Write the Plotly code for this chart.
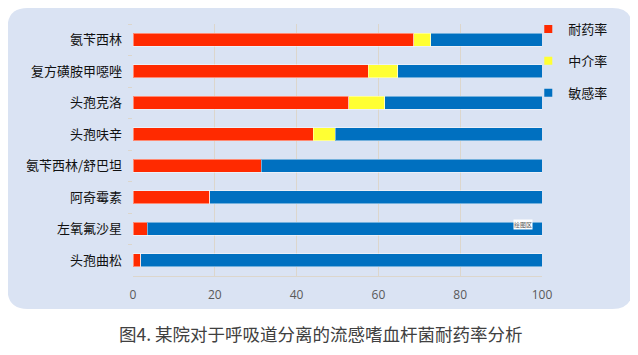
import plotly.graph_objects as go

categories = ["氨苄西林", "复方磺胺甲噁唑", "头孢克洛", "头孢呋辛",
              "氨苄西林/舒巴坦", "阿奇霉素", "左氧氟沙星", "头孢曲松"]
resistant = [68.6, 57.5, 52.8, 44.1, 31.3, 18.8, 3.5, 1.9]
intermediate = [4.2, 7.2, 8.7, 5.3, 0, 0, 0, 0]
sensitive = [27.2, 35.3, 38.5, 50.6, 68.7, 81.2, 96.5, 98.1]
series_names = ["耐药率", "中介率", "敏感率"]
x_ticks = [0, 20, 40, 60, 80, 100]
caption = "图4. 某院对于呼吸道分离的流感嗜血杆菌耐药率分析"

colors = ["#ff2a00", "#ffff33", "#0070c0"]

# the page body adds an 8px margin; work in page pixels and convert
OFF = 8
W, H = 630, 347
PL, PR, PT, PB = 133.3, 541.7, 24, 276  # plot area in page pixels
L, T = PL - OFF, PT - OFF
R, B = W - (PR - OFF), H - (PB - OFF)
PW, PH = PR - PL, PB - PT


def px(X):
    return (X - PL) / PW


def py(Y):
    return (PB - Y) / PH


fig = go.Figure()
for name, vals, col in zip(series_names, [resistant, intermediate, sensitive], colors):
    fig.add_trace(go.Bar(
        y=categories, x=vals, name=name, orientation="h",
        marker=dict(color=col, line=dict(color="rgba(255,255,255,0.45)", width=1)),
        showlegend=False, hoverinfo="skip",
    ))
    fig.add_trace(go.Scatter(
        x=[None], y=[None], mode="markers", name=name, legendgroup=name,
        marker=dict(symbol="square", size=8, color=col),
    ))

# rounded background panel (page pixels)
x0, x1, y0, y1, r = 8, 632, 8, 309, 20
path = (
    f"M {px(x0 + r)},{py(y0)} L {px(x1 - r)},{py(y0)} "
    f"Q {px(x1)},{py(y0)} {px(x1)},{py(y0 + r)} "
    f"L {px(x1)},{py(y1 - r)} Q {px(x1)},{py(y1)} {px(x1 - r)},{py(y1)} "
    f"L {px(x0 + r)},{py(y1)} Q {px(x0)},{py(y1)} {px(x0)},{py(y1 - r)} "
    f"L {px(x0)},{py(y0 + r)} Q {px(x0)},{py(y0)} {px(x0 + r)},{py(y0)} Z"
)
fig.add_shape(type="path", path=path, xref="paper", yref="paper",
              fillcolor="#dae3f3", line=dict(width=0), layer="below")

fig.add_annotation(text=caption, xref="paper", yref="paper",
                   x=px(321), y=py(333.5), xanchor="center", yanchor="middle",
                   showarrow=False,
                   font=dict(size=17.5, color="#404040", family="Noto Sans CJK SC"))
fig.add_annotation(text="绘图区", xref="paper", yref="paper",
                   x=px(523), y=py(224), xanchor="center", yanchor="middle",
                   showarrow=False,
                   font=dict(size=6, color="#555555", family="Noto Sans CJK SC"),
                   bgcolor="white", borderpad=0)

fig.update_layout(
    width=W, height=H, barmode="stack", bargap=0.587,
    margin=dict(l=L, r=R, t=T, b=B, pad=0, autoexpand=False),
    paper_bgcolor="white", plot_bgcolor="rgba(0,0,0,0)",
    font=dict(family="Noto Sans CJK SC", color="#1a1a1a"),
    legend=dict(x=px(528), y=py(14), xanchor="left", yanchor="top",
                bgcolor="rgba(0,0,0,0)", font=dict(size=13, color="#111111"),
                traceorder="grouped", tracegroupgap=12, itemwidth=30),
    xaxis=dict(range=[0, 100], tickvals=x_ticks, showgrid=True, automargin=False,
               gridcolor="#dcd6cc", gridwidth=1, zeroline=False,
               showline=True, linecolor="#dcd6cc", linewidth=1,
               tickfont=dict(size=12, color="#595959", family="Open Sans"),
               ticks="", ticklabelstandoff=8),
    yaxis=dict(autorange="reversed", showgrid=False, zeroline=False, automargin=False,
               showline=False, ticks="outside", tickson="boundaries",
               ticklen=4, tickcolor="#dcd6cc",
               tickfont=dict(size=13, color="#111111", family="Noto Sans CJK SC"),
               ticklabelstandoff=10),
)

fig.write_html("out.html")
